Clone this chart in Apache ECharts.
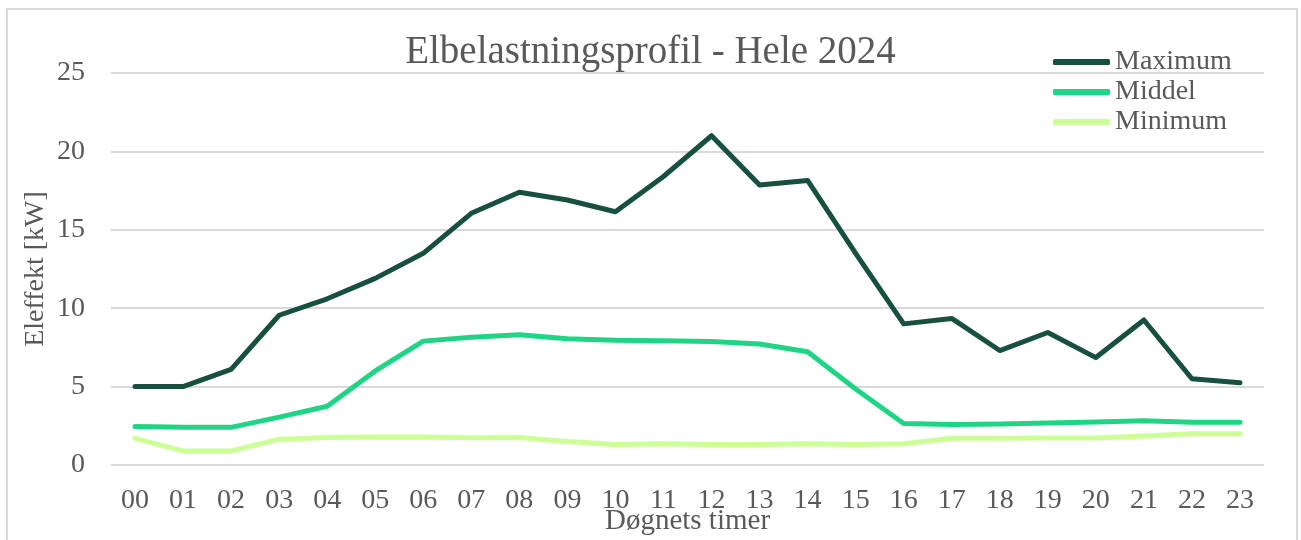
<!DOCTYPE html>
<html>
<head>
<meta charset="utf-8">
<script src="https://cdn.jsdelivr.net/npm/echarts@6/dist/echarts.min.js"></script>
<style>
html,body{margin:0;padding:0;background:#fff;}
#chart{width:1301px;height:540px;}
</style>
</head>
<body>
<div id="chart"></div>
<script>
const hours = ['00','01','02','03','04','05','06','07','08','09','10','11','12','13','14','15','16','17','18','19','20','21','22','23'];
const maximum = [5.0,5.0,6.1,9.55,10.6,11.9,13.5,16.05,17.4,16.9,16.15,18.4,21.0,17.85,18.15,13.5,9.0,9.35,7.3,8.45,6.85,9.25,5.5,5.25];
const middel = [2.45,2.4,2.4,3.05,3.75,6.0,7.9,8.15,8.3,8.05,7.95,7.93,7.88,7.72,7.22,4.85,2.65,2.58,2.62,2.68,2.75,2.82,2.72,2.72];
const minimum = [1.7,0.9,0.9,1.65,1.75,1.78,1.78,1.73,1.75,1.5,1.3,1.35,1.3,1.3,1.35,1.3,1.35,1.7,1.7,1.72,1.72,1.85,2.0,2.0];
const yTicks = [0,5,10,15,20,25];

const FONT = 'Liberation Serif';
const TXT = '#595959';
const chart = echarts.init(document.getElementById('chart'), null, {renderer:'canvas'});
const mk = (name, data, color) => ({
  name, type:'line', data, symbol:'none', smooth:false,
  lineStyle:{width:5, color, cap:'round', join:'round'}, itemStyle:{color}
});
chart.setOption({
  animation:false,
  textStyle:{fontFamily:FONT},
  graphic:[{type:'rect', shape:{x:7,y:9,width:1290,height:540}, style:{fill:'none', stroke:'#d9d9d9', lineWidth:2}, silent:true}],
  title:{text:'Elbelastningsprofil - Hele 2024', left:'center', top:28,
    textStyle:{fontFamily:FONT, fontSize:39, fontWeight:'normal', color:TXT}},
  legend:{orient:'vertical', left:1048, top:42, itemWidth:57, itemHeight:6, itemGap:0,
    icon:'roundRect',
    textStyle:{fontFamily:FONT, fontSize:28, color:TXT, lineHeight:30},
    data:['Maximum','Middel','Minimum']},
  grid:{left:111, right:37, top:73, bottom:75, containLabel:false, outerBoundsMode:'none'},
  xAxis:{type:'category', data:hours, boundaryGap:true,
    name:'Døgnets timer', nameLocation:'middle', nameGap:42, nameMoveOverlap:false,
    nameTextStyle:{fontFamily:FONT, fontSize:29, color:TXT},
    axisLine:{show:false}, axisTick:{show:false},
    axisLabel:{fontFamily:FONT, fontSize:28, color:TXT, margin:22, interval:0}},
  yAxis:{type:'value', min:0, max:25, interval:5,
    name:'Eleffekt [kW]', nameLocation:'middle', nameGap:61, nameMoveOverlap:false,
    nameTextStyle:{fontFamily:FONT, fontSize:28, color:TXT},
    axisLine:{show:false}, axisTick:{show:false},
    splitLine:{lineStyle:{color:'#d9d9d9', width:2}},
    axisLabel:{fontFamily:FONT, fontSize:28, color:TXT, margin:26,
      formatter:v=>yTicks.includes(v)?String(v):''}},
  series:[mk('Maximum', maximum, '#17503f'), mk('Middel', middel, '#1fd585'), mk('Minimum', minimum, '#ccff95')]
});
</script>
</body>
</html>
